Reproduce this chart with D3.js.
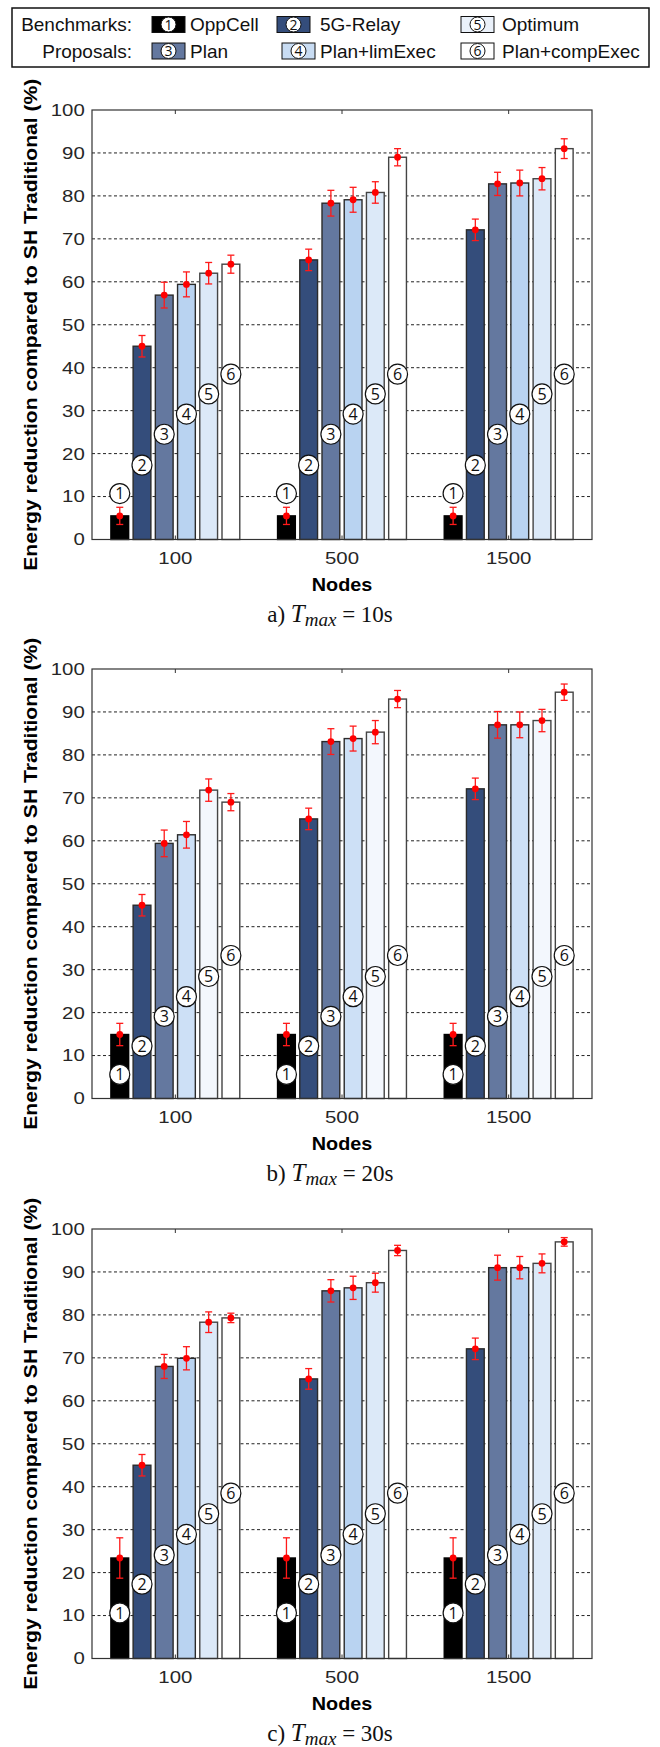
<!DOCTYPE html>
<html>
<head>
<meta charset="utf-8">
<script src="https://cdn.jsdelivr.net/npm/d3@7"></script>
<style>
body { margin: 0; background: #fff; }
svg { display: block; }
</style>
</head>
<body>
<svg id="chart" width="660" height="1747"></svg>
<script>
// categories and series
const groups = ["100", "500", "1500"];
const seriesNames = ["OppCell", "5G-Relay", "Plan", "Plan+limExec", "Optimum", "Plan+compExec"];
const seriesIds = ["1", "2", "3", "4", "5", "6"];
const yTicks = [0, 10, 20, 30, 40, 50, 60, 70, 80, 90, 100];

// a) Tmax = 10s  (one row per node count, one column per series)
const valuesA = [
  [5.5, 45.0, 56.9, 59.4, 62.0, 64.1],
  [5.5, 65.1, 78.3, 79.1, 80.8, 89.0],
  [5.5, 72.1, 82.8, 83.0, 84.0, 91.0]
];
const errorsA = [
  [2.0, 2.5, 3.0, 2.9, 2.5, 2.1],
  [2.0, 2.5, 3.0, 2.9, 2.5, 2.0],
  [2.0, 2.5, 2.7, 3.0, 2.6, 2.3]
];
const badgeA = [10.7, 17.3, 24.5, 29.2, 33.9, 38.5];

// b) Tmax = 20s
const valuesB = [
  [14.9, 45.0, 59.4, 61.4, 71.8, 69.0],
  [14.9, 65.1, 83.1, 83.8, 85.3, 93.0],
  [14.9, 72.1, 87.0, 87.0, 88.0, 94.6]
];
const errorsB = [
  [2.6, 2.5, 3.1, 3.1, 2.6, 2.0],
  [2.6, 2.5, 3.0, 2.9, 2.7, 2.0],
  [2.6, 2.5, 3.1, 3.0, 2.6, 1.9]
];
const badgeB = [5.6, 12.2, 19.1, 23.7, 28.4, 33.3];

// c) Tmax = 30s
const valuesC = [
  [23.4, 45.0, 68.0, 69.9, 78.3, 79.3],
  [23.4, 65.1, 85.6, 86.3, 87.5, 95.0],
  [23.4, 72.1, 91.0, 91.0, 92.0, 97.0]
];
const errorsC = [
  [4.7, 2.5, 2.8, 2.7, 2.4, 1.1],
  [4.7, 2.4, 2.6, 2.7, 2.2, 1.2],
  [4.7, 2.5, 2.9, 2.6, 2.2, 1.0]
];
const badgeC = [10.6, 17.3, 24.1, 28.9, 33.7, 38.5];

const coloursAC = ["#000000", "#344d7b", "#64789f", "#b9d3f1", "#dce9f8", "#ffffff"];
const coloursB  = ["#000000", "#344d7b", "#64789f", "#cde0f6", "#f3f7fd", "#ffffff"];
const legendColours = ["#000000", "#344d7b", "#64789f", "#c8dcf3", "#eaf1fa", "#ffffff"];

const panels = [
  { values: valuesA, errors: errorsA, badges: badgeA, colours: coloursAC, tag: "a)", tmax: "10s", top: 110 },
  { values: valuesB, errors: errorsB, badges: badgeB, colours: coloursB,  tag: "b)", tmax: "20s", top: 669 },
  { values: valuesC, errors: errorsC, badges: badgeC, colours: coloursAC, tag: "c)", tmax: "30s", top: 1229 }
];

let svg = d3.select("#chart"),
    left = 92,
    width = 500,
    height = 429.5;

let x0 = d3.scaleBand().domain(groups).range([0, width]);
let x1 = d3.scaleBand().domain(seriesIds)
    .range([x0.bandwidth() * 0.1, x0.bandwidth() * 0.9])
    .paddingInner(0.2).paddingOuter(0.1);
let y = d3.scaleLinear().domain([0, 100]).range([height, 0]);

panels.forEach(function (p) {
  let g = svg.append("g").attr("transform", "translate(" + left + "," + p.top + ")");

  // dashed grid
  g.append("g").selectAll("line")
    .data(yTicks.filter(function (t) { return t > 0 && t < 100; }))
    .enter().append("line")
    .attr("x1", 0).attr("x2", width)
    .attr("y1", function (d) { return y(d); })
    .attr("y2", function (d) { return y(d); })
    .attr("stroke", "#222").attr("stroke-width", 1)
    .attr("stroke-dasharray", "3,2.5");

  // y axis labels
  let ya = g.append("g").call(d3.axisLeft(y).tickValues(yTicks).tickSize(0).tickPadding(6));
  ya.select(".domain").remove();
  ya.selectAll("text")
    .attr("font-family", "'Liberation Sans', Arial, sans-serif")
    .attr("font-size", 17).attr("fill", "#262626")
    .attr("transform", "scale(1.2,1)");

  // x axis labels
  let xa = g.append("g").attr("transform", "translate(0," + height + ")")
    .call(d3.axisBottom(x0).tickSize(0).tickPadding(12));
  xa.select(".domain").remove();
  xa.selectAll("text")
    .attr("font-family", "'Liberation Sans', Arial, sans-serif")
    .attr("font-size", 17).attr("fill", "#262626")
    .attr("transform", "scale(1.2,1)");

  // bars
  let grp = g.selectAll(".grp")
    .data(p.values)
    .enter().append("g")
    .attr("class", "grp")
    .attr("transform", function (d, i) { return "translate(" + x0(groups[i]) + ",0)"; });

  grp.selectAll("rect")
    .data(function (d) { return d; })
    .enter().append("rect")
    .attr("x", function (d, j) { return x1(seriesIds[j]); })
    .attr("y", function (d) { return y(d); })
    .attr("width", x1.bandwidth())
    .attr("height", function (d) { return height - y(d); })
    .attr("fill", function (d, j) { return p.colours[j]; })
    .attr("stroke", function (d, j) { return j == 0 ? "#000" : (j > 3 ? "#444" : "#2b2b2b"); })
    .attr("stroke-width", 1.4);

  // error bars
  grp.each(function (row, i) {
    let eg = d3.select(this);
    row.forEach(function (v, j) {
      let cx = x1(seriesIds[j]) + x1.bandwidth() / 2,
          e = p.errors[i][j];
      eg.append("line").attr("x1", cx).attr("x2", cx)
        .attr("y1", y(v - e)).attr("y2", y(v + e))
        .attr("stroke", "#ff1a1a").attr("stroke-width", 1.3);
      [v - e, v + e].forEach(function (t) {
        eg.append("line").attr("x1", cx - 3.5).attr("x2", cx + 3.5)
          .attr("y1", y(t)).attr("y2", y(t))
          .attr("stroke", "#ff1a1a").attr("stroke-width", 1.3);
      });
      eg.append("circle").attr("cx", cx).attr("cy", y(v)).attr("r", 3.4).attr("fill", "#ff0000");
    });
  });

  // numbered badges
  grp.each(function () {
    let bg = d3.select(this);
    p.badges.forEach(function (b, j) {
      let cx = x1(seriesIds[j]) + x1.bandwidth() / 2;
      bg.append("circle").attr("cx", cx).attr("cy", y(b)).attr("r", 10)
        .attr("fill", "#fff").attr("stroke", "#111").attr("stroke-width", 1.2);
      bg.append("text").attr("x", cx).attr("y", y(b))
        .attr("text-anchor", "middle").attr("dy", "0.36em")
        .attr("font-family", "'Open Sans', sans-serif").attr("font-size", 16)
        .attr("fill", "#111").text(seriesIds[j]);
    });
  });

  // box and small category ticks
  g.append("rect").attr("width", width).attr("height", height)
    .attr("fill", "none").attr("stroke", "#333").attr("stroke-width", 1.2);
  groups.forEach(function (c) {
    let cx = x0(c) + x0.bandwidth() / 2;
    g.append("line").attr("x1", cx).attr("x2", cx).attr("y1", 0).attr("y2", 4).attr("stroke", "#333");
    g.append("line").attr("x1", cx).attr("x2", cx).attr("y1", height).attr("y2", height - 4).attr("stroke", "#333");
  });

  // axis titles
  g.append("text")
    .attr("transform", "translate(" + (31 - left) + "," + (height / 2) + ") rotate(-90)")
    .attr("text-anchor", "middle").attr("dy", "0.35em")
    .attr("font-family", "'Liberation Sans', Arial, sans-serif")
    .attr("font-weight", "bold").attr("font-size", 18)
    .attr("textLength", 492).attr("lengthAdjust", "spacingAndGlyphs")
    .text("Energy reduction compared to SH Traditional (%)");

  g.append("text")
    .attr("transform", "translate(" + (width / 2) + "," + (height + 45) + ") scale(1.1,1)")
    .attr("text-anchor", "middle").attr("dy", "0.35em")
    .attr("font-family", "'Liberation Sans', Arial, sans-serif")
    .attr("font-weight", "bold").attr("font-size", 18)
    .text("Nodes");

  // caption
  let cap = g.append("text")
    .attr("x", width / 2 - 12).attr("y", height + 82)
    .attr("text-anchor", "middle")
    .attr("font-family", "'Liberation Serif', 'Times New Roman', serif")
    .attr("font-size", 23).attr("fill", "#111");
  cap.append("tspan").text(p.tag + " ");
  cap.append("tspan").attr("font-style", "italic").attr("font-size", 25).text("T");
  cap.append("tspan").attr("font-style", "italic").attr("font-size", 19).attr("dy", 4).text("max");
  cap.append("tspan").attr("dy", -4).text(" = " + p.tmax);
});

// legend
let legend = svg.append("g");
legend.append("rect").attr("x", 12).attr("y", 8).attr("width", 637).attr("height", 59)
  .attr("fill", "#fff").attr("stroke", "#111").attr("stroke-width", 1.5);

const legendRows = [
  { title: "Benchmarks:", cy: 24.5, items: [0, 1, 4], sx: [152, 277, 461], tx: [190, 320, 502] },
  { title: "Proposals:",  cy: 51,   items: [2, 3, 5], sx: [152, 282, 461], tx: [190, 320, 502] }
];

legendRows.forEach(function (r) {
  legend.append("text").attr("x", 132).attr("y", r.cy).attr("dy", "0.35em")
    .attr("text-anchor", "end")
    .attr("font-family", "'Liberation Sans', Arial, sans-serif").attr("font-size", 19)
    .attr("fill", "#111").text(r.title);
  r.items.forEach(function (k, n) {
    legend.append("rect").attr("x", r.sx[n]).attr("y", r.cy - 8).attr("width", 33).attr("height", 16)
      .attr("fill", legendColours[k]).attr("stroke", "#111").attr("stroke-width", 1);
    legend.append("circle").attr("cx", r.sx[n] + 16.5).attr("cy", r.cy).attr("r", 7.5)
      .attr("fill", "#fff").attr("stroke", "#111").attr("stroke-width", 1);
    legend.append("text").attr("x", r.sx[n] + 16.5).attr("y", r.cy).attr("dy", "0.36em")
      .attr("text-anchor", "middle")
      .attr("font-family", "'Open Sans', sans-serif").attr("font-size", 14)
      .attr("fill", "#111").text(seriesIds[k]);
    legend.append("text").attr("x", r.tx[n]).attr("y", r.cy).attr("dy", "0.35em")
      .attr("font-family", "'Liberation Sans', Arial, sans-serif").attr("font-size", 19)
      .attr("fill", "#111").text(seriesNames[k]);
  });
});
</script>
</body>
</html>
